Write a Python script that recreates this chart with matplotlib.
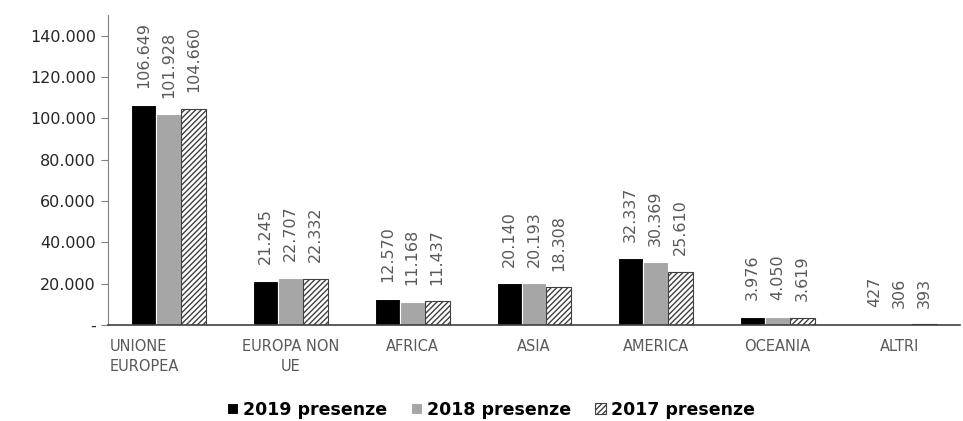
import numpy as np
import matplotlib
matplotlib.use("Agg")
import matplotlib.pyplot as plt
from matplotlib.transforms import ScaledTranslation

categorie = ["UNIONE\nEUROPEA", "EUROPA NON\nUE", "AFRICA", "ASIA", "AMERICA", "OCEANIA", "ALTRI"]
presenze_2019 = [106649, 21245, 12570, 20140, 32337, 3976, 427]
presenze_2018 = [101928, 22707, 11168, 20193, 30369, 4050, 306]
presenze_2017 = [104660, 22332, 11437, 18308, 25610, 3619, 393]
serie_nomi = ["2019 presenze", "2018 presenze", "2017 presenze"]
yticks = [0, 20000, 40000, 60000, 80000, 100000, 120000, 140000]


def fmt(v):
    return "-" if v == 0 else f"{v:,}".replace(",", ".")


plt.rcParams['font.family'] = ['DejaVu Sans']
plt.rcParams['hatch.linewidth'] = 1.0
testo = "#595959"

fig = plt.figure(figsize=(9.63, 4.21), dpi=100)
ax = fig.add_axes([0.112, 0.228, 0.885, 0.736])

x = np.arange(len(categorie))
w = 0.205
serie = [presenze_2019, presenze_2018, presenze_2017]
stili = [
    dict(color="black", edgecolor="white", linewidth=0.8),
    dict(color="#a6a6a6", edgecolor="white", linewidth=0.8),
    dict(facecolor="white", edgecolor="#404040", hatch="//////", linewidth=0.8),
]

for i, (vals, st, nome) in enumerate(zip(serie, stili, serie_nomi)):
    pos = x + (i - 1) * w
    bars = ax.bar(pos, vals, w, label=nome, **st)
    for b, v in zip(bars, vals):
        ax.annotate(fmt(v), (b.get_x() + b.get_width() / 2, v),
                    xytext=(0, 12), textcoords="offset points",
                    rotation=90, ha="center", va="bottom",
                    fontsize=11.5, color=testo)

ax.set_xlim(-0.5, len(categorie) - 0.5)
ax.set_ylim(0, 150000)
ax.set_yticks(yticks)
ax.set_yticklabels([fmt(v) for v in yticks], fontsize=11.5, color="#262626")
ax.set_xticks(x)
ax.set_xticklabels(categorie, fontsize=10.5, color=testo, linespacing=1.45)
ax.tick_params(axis="x", length=0, pad=10)
ax.tick_params(axis="y", length=5, color="#808080", width=0.8)

# prima etichetta spostata a sinistra come nell'originale
lab0 = ax.get_xticklabels()[0]
lab0.set_multialignment("left")
lab0.set_transform(lab0.get_transform() + ScaledTranslation(-0.24, 0, fig.dpi_scale_trans))

for s in ["top", "right"]:
    ax.spines[s].set_visible(False)
ax.spines["left"].set_color("#808080")
ax.spines["bottom"].set_color("#404040")
ax.spines["bottom"].set_linewidth(1.2)

fig.legend(loc="center", bbox_to_anchor=(0.51, 0.026), ncol=3, frameon=False,
           prop=dict(weight="bold", size=12.5), handlelength=0.6, handleheight=0.6,
           handletextpad=0.3, columnspacing=1.4)

fig.savefig("out.png", dpi=100)
